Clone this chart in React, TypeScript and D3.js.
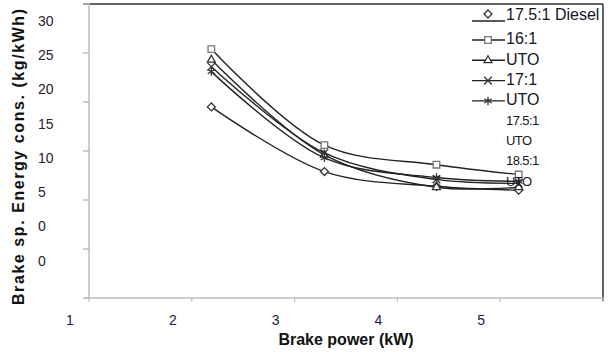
import { useEffect, useRef } from "react"
import * as d3 from "d3"

// brake power (kW) for each load step
const brakePower = [2.19, 3.29, 4.38, 5.18]

// series, values
const seriesNames = ["17.5:1 Diesel", "16:1 UTO", "17:1 UTO", "17.5:1 UTO", "18.5:1 UTO"]
const diesel175 = [19.5, 12.9, 11.4, 11.0]
const uto16 = [25.4, 15.6, 13.6, 12.6]
const uto17 = [24.3, 14.6, 11.3, 11.3]
const uto175 = [23.6, 14.8, 12.1, 11.7]
const uto185 = [23.1, 14.3, 12.3, 11.9]

const yTicks = [0, 5, 10, 15, 20, 25, 30]
const xTicks = [1, 2, 3, 4, 5, 6]
// tick labels as printed (they are offset from the tick marks in the original)
const yTickLabels = ["30", "25", "20", "15", "10", "5", "0", "0"]
const xTickLabels = ["1", "2", "3", "4", "5"]

// legend text rows as they appear (wrapped)
const legendRows = ["17.5:1 Diesel", "16:1", "UTO", "17:1", "UTO", "17.5:1", "UTO", "18.5:1", "UTO"]

export default function App() {
  const svgRef = useRef<SVGSVGElement>(null)

  useEffect(() => {
    if (!svgRef.current) return
    const svg = d3.select(svgRef.current)
    svg.selectAll("*").remove()

    const width = 612
    const height = 352
    const plot = { left: 89, right: 603, top: 4, bottom: 298 }

    const x = d3.scaleLinear().domain([1, 6]).range([plot.left, plot.right])
    const y = d3.scaleLinear().domain([0, 30]).range([plot.bottom, plot.top])

    svg.attr("width", width).attr("height", height).attr("viewBox", [0, 0, width, height])

    svg.append("rect").attr("width", width).attr("height", height).attr("fill", "#fff")

    // frame: dark on top/right, grey axes on left/bottom
    svg.append("line")
      .attr("x1", plot.left - 6).attr("x2", plot.right)
      .attr("y1", plot.top).attr("y2", plot.top)
      .attr("stroke", "#333").attr("stroke-width", 1.5)
    svg.append("line")
      .attr("x1", plot.right).attr("x2", plot.right)
      .attr("y1", plot.top).attr("y2", plot.bottom + 3)
      .attr("stroke", "#333").attr("stroke-width", 1.5)

    const grey = "#bdbdbd"
    svg.append("line")
      .attr("x1", plot.left).attr("x2", plot.left)
      .attr("y1", plot.top).attr("y2", plot.bottom)
      .attr("stroke", grey).attr("stroke-width", 1.5)
    svg.append("line")
      .attr("x1", plot.left - 5).attr("x2", plot.right)
      .attr("y1", plot.bottom).attr("y2", plot.bottom)
      .attr("stroke", grey).attr("stroke-width", 1.5)

    svg.selectAll("line.ytick")
      .data(yTicks)
      .enter()
      .append("line")
      .attr("class", "ytick")
      .attr("x1", plot.left - 6).attr("x2", plot.left + 1)
      .attr("y1", (d) => y(d)).attr("y2", (d) => y(d))
      .attr("stroke", grey).attr("stroke-width", 1.5)

    svg.selectAll("line.xtick")
      .data(xTicks)
      .enter()
      .append("line")
      .attr("class", "xtick")
      .attr("x1", (d) => x(d)).attr("x2", (d) => x(d))
      .attr("y1", plot.bottom).attr("y2", plot.bottom + 4)
      .attr("stroke", grey).attr("stroke-width", 1.2)

    // tick labels
    const yLab = d3.scalePoint<number>()
      .domain(yTickLabels.map((_, i) => i))
      .range([22, 262])
    svg.selectAll("text.ylab")
      .data(yTickLabels)
      .enter()
      .append("text")
      .attr("class", "ylab")
      .attr("x", 38)
      .attr("y", (_, i) => yLab(i)!)
      .attr("dominant-baseline", "middle")
      .attr("font-family", "Liberation Sans, Arial, sans-serif")
      .attr("font-size", 14)
      .attr("fill", "#2a2030")
      .text((d) => d)

    svg.selectAll("text.xlab")
      .data(xTickLabels)
      .enter()
      .append("text")
      .attr("class", "xlab")
      .attr("x", (d) => x(+d) - 19)
      .attr("y", 321)
      .attr("text-anchor", "middle")
      .attr("dominant-baseline", "middle")
      .attr("font-family", "Liberation Sans, Arial, sans-serif")
      .attr("font-size", 14)
      .attr("fill", "#1a2040")
      .text((d) => d)

    // axis titles
    svg.append("text")
      .attr("x", 346)
      .attr("y", 345)
      .attr("text-anchor", "middle")
      .attr("font-family", "Liberation Sans, Arial, sans-serif")
      .attr("font-weight", "bold")
      .attr("font-size", 16)
      .attr("fill", "#111")
      .text("Brake power (kW)")

    svg.append("text")
      .attr("transform", "translate(24,157) rotate(-90)")
      .attr("text-anchor", "middle")
      .attr("font-family", "Liberation Sans, Arial, sans-serif")
      .attr("font-weight", "bold")
      .attr("font-size", 16)
      .attr("textLength", 296)
      .attr("lengthAdjust", "spacing")
      .attr("fill", "#111")
      .text("Brake sp. Energy cons. (kg/kWh)")

    // series
    const allSeries = [diesel175, uto16, uto17, uto175, uto185]
    const symbols = [d3.symbolDiamond2, d3.symbolSquare2, d3.symbolTriangle2, d3.symbolTimes, d3.symbolAsterisk]
    const symbolSizes = [40, 55, 45, 40, 50]

    const line = d3.line<number>()
      .x((_, i) => x(brakePower[i]))
      .y((d) => y(d))
      .curve(d3.curveCatmullRom.alpha(0.5))

    allSeries.forEach((vals, s) => {
      svg.append("path")
        .datum(vals)
        .attr("d", line)
        .attr("fill", "none")
        .attr("stroke", "#222")
        .attr("stroke-width", 1.4)

      svg.selectAll(`path.m${s}`)
        .data(vals)
        .enter()
        .append("path")
        .attr("class", `m${s}`)
        .attr("transform", (d, i) => `translate(${x(brakePower[i])},${y(d)})`)
        .attr("d", d3.symbol().type(symbols[s]).size(symbolSizes[s]))
        .attr("fill", s === 4 ? "#222" : "#fff")
        .attr("stroke", s === 1 ? "#777" : "#333")
        .attr("stroke-width", 1.3)
    })

    // legend
    const legY = (i: number) => (i === 0 ? 16 : 40 + (i - 1) * 20.3)
    const legX = 506

    legendRows.forEach((label, i) => {
      const small = i >= 5
      svg.append("text")
        .attr("x", legX)
        .attr("y", legY(i))
        .attr("dominant-baseline", "middle")
        .attr("font-family", "Liberation Sans, Arial, sans-serif")
        .attr("font-size", small ? 13 : 16)
        .attr("letter-spacing", small ? -0.6 : 0)
        .attr("fill", "#141428")
        .text(label)
    })

    seriesNames.forEach((_, s) => {
      const ly = s === 0 ? 21 : legY(s)
      svg.append("line")
        .attr("x1", 472).attr("x2", 505)
        .attr("y1", ly).attr("y2", ly)
        .attr("stroke", "#222").attr("stroke-width", 1.4)
      svg.append("path")
        .attr("transform", `translate(488,${s === 0 ? 14 : ly})`)
        .attr("d", d3.symbol().type(symbols[s]).size(symbolSizes[s]))
        .attr("fill", s === 4 ? "#222" : "#fff")
        .attr("stroke", s === 1 ? "#777" : "#333")
        .attr("stroke-width", 1.3)
    })
  }, [])

  return (
    <div>
      <style>{`body{margin:0}`}</style>
      <svg ref={svgRef} style={{ display: "block" }} />
    </div>
  )
}
